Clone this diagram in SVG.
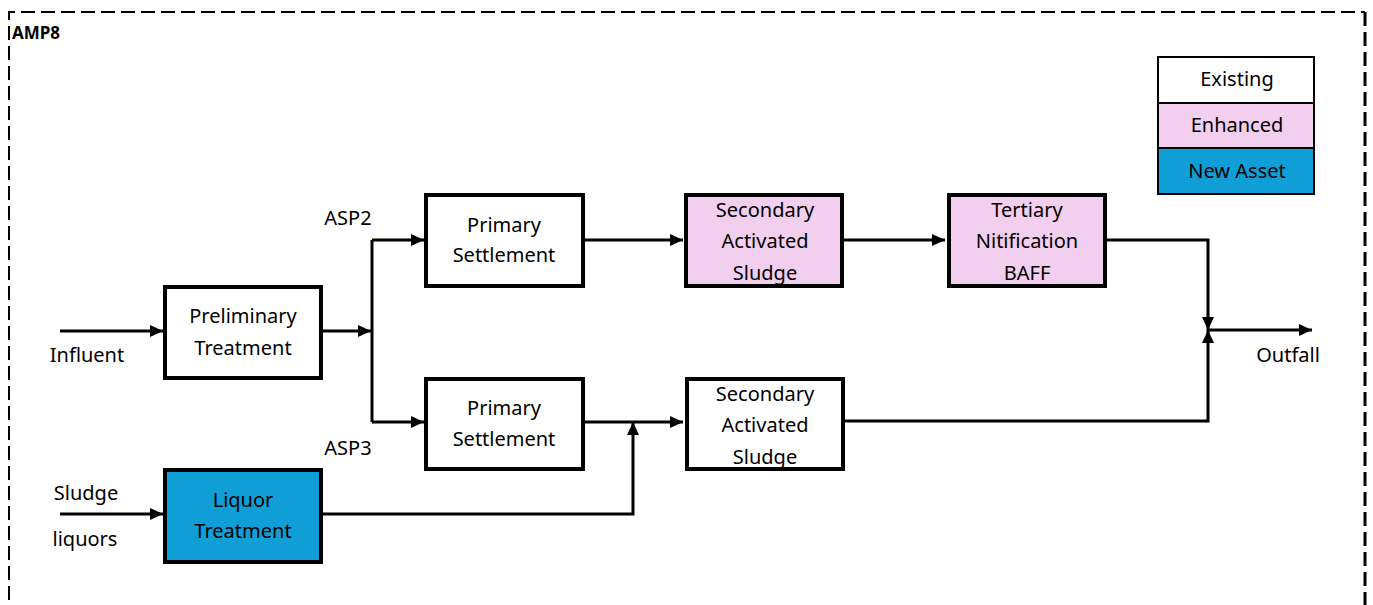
<svg xmlns="http://www.w3.org/2000/svg" width="1373" height="605" viewBox="0 0 1373 605">
<style>
.bg{fill:#ffffff}
.node{stroke:#000;stroke-width:4}
.existing{fill:#ffffff}
.enhanced{fill:#F2CEEF}
.newasset{fill:#0F9ED5}
.leg{stroke:#000;stroke-width:2}
.t{font-family:"Noto Sans","Open Sans",sans-serif;font-size:20px;fill:#000;text-anchor:middle}
.lbl{font-family:"Noto Sans","Open Sans",sans-serif;font-size:20px;fill:#000;text-anchor:middle}
.title{font-family:"Noto Sans","Open Sans",sans-serif;font-size:17px;font-weight:bold;fill:#000}
.c{fill:none;stroke:#000;stroke-width:3}
.ca{fill:none;stroke:#000;stroke-width:3;marker-end:url(#ah)}
.border{fill:none;stroke:#000;stroke-dasharray:14 6}
</style>
<defs>
<marker id="ah" markerUnits="userSpaceOnUse" markerWidth="14" markerHeight="12" refX="13" refY="6" orient="auto">
<path d="M0,0 L13,6 L0,12 Z" fill="#000"/>
</marker>
</defs>
<rect class="bg" x="0" y="0" width="1373" height="605"/>
<g id="frame">
<path class="border" stroke-width="2" d="M9,620 L9,12 L1365,12"/>
<path class="border" stroke-width="3" d="M1365,12 L1365,620"/>
<text class="title" x="12" y="39">AMP8</text>
</g>
<g id="connectors">
<path class="ca" d="M60,331 L163,331"/>
<path class="ca" d="M322,331 L371,331"/>
<path class="c" d="M372,240 L372,422"/>
<path class="ca" d="M372,240 L424,240"/>
<path class="ca" d="M372,422 L424,422"/>
<path class="ca" d="M584,240 L683,240"/>
<path class="ca" d="M843,240 L945,240"/>
<path class="ca" d="M1107,240 L1208,240 L1208,330"/>
<path class="ca" d="M845,421 L1208,421 L1208,330"/>
<path class="ca" d="M1208,330 L1312,330"/>
<path class="ca" d="M584,422 L683,422"/>
<path class="ca" d="M322,514 L633,514 L633,422"/>
<path class="ca" d="M60,514 L163,514"/>
</g>
<g id="labels">
<text class="lbl" x="87" y="362">Influent</text>
<text class="lbl" x="86" y="500">Sludge</text>
<text class="lbl" x="85" y="546">liquors</text>
<text class="lbl" x="348" y="225">ASP2</text>
<text class="lbl" x="348" y="455">ASP3</text>
<text class="lbl" x="1288" y="362">Outfall</text>
</g>
<g id="preliminary">
<rect class="node existing" x="165" y="287" width="156" height="91"/>
<text class="t" x="243" y="323">Preliminary</text>
<text class="t" x="243" y="355">Treatment</text>
</g>
<g id="liquor">
<rect class="node newasset" x="165" y="470" width="156" height="92"/>
<text class="t" x="243" y="507">Liquor</text>
<text class="t" x="243" y="538">Treatment</text>
</g>
<g id="ps2">
<rect class="node existing" x="426" y="195" width="157" height="91"/>
<text class="t" x="504" y="232">Primary</text>
<text class="t" x="504" y="262">Settlement</text>
</g>
<g id="ps3">
<rect class="node existing" x="426" y="379" width="157" height="90"/>
<text class="t" x="504" y="415">Primary</text>
<text class="t" x="504" y="446">Settlement</text>
</g>
<g id="sas2">
<rect class="node enhanced" x="686" y="195" width="156" height="91"/>
<text class="t" x="765" y="217">Secondary</text>
<text class="t" x="765" y="248">Activated</text>
<text class="t" x="765" y="280">Sludge</text>
</g>
<g id="tertiary">
<rect class="node enhanced" x="949" y="195" width="156" height="91"/>
<text class="t" x="1027" y="217">Tertiary</text>
<text class="t" x="1027" y="248">Nitification</text>
<text class="t" x="1027" y="280">BAFF</text>
</g>
<g id="sas3">
<rect class="node existing" x="687" y="379" width="156" height="90"/>
<text class="t" x="765" y="401">Secondary</text>
<text class="t" x="765" y="432">Activated</text>
<text class="t" x="765" y="464">Sludge</text>
</g>
<g id="legend">
<rect class="leg existing" x="1158" y="57" width="156" height="46"/>
<text class="t" x="1237" y="86">Existing</text>
<rect class="leg enhanced" x="1158" y="103" width="156" height="45"/>
<text class="t" x="1237" y="132">Enhanced</text>
<rect class="leg newasset" x="1158" y="148" width="156" height="46"/>
<text class="t" x="1237" y="178">New Asset</text>
</g>
</svg>
